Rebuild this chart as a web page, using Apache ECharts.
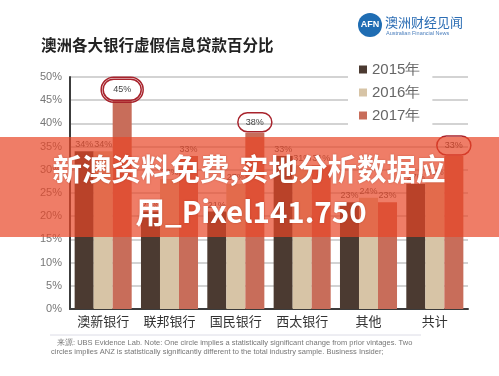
<!DOCTYPE html>
<html>
<head>
<meta charset="utf-8">
<script src="https://cdn.jsdelivr.net/npm/echarts@6/dist/echarts.min.js"></script>
<style>
  html, body { margin: 0; padding: 0; background: #fff; }
  #chart { width: 499px; height: 376px; }
</style>
</head>
<body>
<div id="chart"></div>
<script>
  // 数据
  const categories = ['澳新银行', '联邦银行', '国民银行', '西太银行', '其他', '共计'];
  const years = ['2015年', '2016年', '2017年'];
  const v2015 = [34, 21, 21, 33, 23, 27];
  const v2016 = [34, 28, 27, 31, 24, 28];
  const v2017 = [45, 33, 38, 31, 23, 33];
  // 圈数: 0 无, 1 单圈, 2 双圈
  const rings2017 = [2, 0, 1, 0, 0, 1];

  const cjk = '"Noto Sans CJK SC", sans-serif';
  const latin = '"Liberation Sans", Arial, sans-serif';
  const colors = ['#4b3a31', '#d7c4a6', '#c86d5a'];
  const ringColor = '#a8232c';

  let myChart = echarts.init(document.getElementById('chart'));

  const baseLabel = {
    show: true,
    position: 'top',
    distance: 2,
    fontSize: 9,
    color: '#555',
    fontFamily: latin,
    formatter: '{c}%'
  };

  function ringLabel (v, n) {
    if (n === 2) {
      return {
        value: v,
        label: {
          show: true,
          position: 'top',
          distance: -2,
          formatter: '{r|' + v + '%}',
          borderColor: ringColor,
          borderWidth: 1.5,
          borderRadius: 16,
          padding: 2,
          rich: {
            r: {
              fontSize: 9,
              color: '#444',
              fontFamily: latin,
              borderColor: ringColor,
              borderWidth: 1.5,
              borderRadius: 13,
              padding: [6, 10]
            }
          }
        }
      };
    }
    if (n === 1) {
      return {
        value: v,
        label: {
          show: true,
          position: 'top',
          distance: 1,
          formatter: v + '%',
          fontSize: 9,
          color: '#444',
          fontFamily: latin,
          borderColor: ringColor,
          borderWidth: 1.5,
          borderRadius: 11,
          padding: [5, 8]
        }
      };
    }
    return v;
  }

  myChart.setOption({
    backgroundColor: '#fff',
    animation: false,
    color: colors,
    title: {
      text: '澳洲各大银行虚假信息贷款百分比',
      left: 36,
      top: 32,
      textStyle: {
        fontSize: 15.5,
        fontWeight: 'bold',
        color: '#222',
        fontFamily: cjk
      }
    },
    legend: {
      data: years,
      orient: 'vertical',
      left: 348,
      top: 58,
      icon: 'rect',
      itemWidth: 8,
      itemHeight: 8,
      itemGap: 8,
      backgroundColor: '#fff',
      padding: [4, 12, 4, 11],
      textStyle: {
        fontSize: 15,
        color: '#666',
        fontFamily: latin,
        lineHeight: 14
      }
    },
    grid: {
      left: 70,
      right: 31,
      top: 77,
      bottom: 67
    },
    xAxis: {
      type: 'category',
      data: categories,
      axisTick: { show: false },
      axisLine: {
        lineStyle: { color: '#3c3c3c', width: 2 }
      },
      axisLabel: {
        interval: 0,
        margin: 6,
        fontSize: 13,
        color: '#333',
        fontFamily: cjk
      }
    },
    yAxis: {
      type: 'value',
      min: 0,
      max: 50,
      interval: 5,
      axisLine: {
        show: true,
        lineStyle: { color: '#3c3c3c', width: 2 }
      },
      axisTick: { show: false },
      axisLabel: {
        formatter: '{value}%',
        margin: 8,
        fontSize: 11,
        color: '#777',
        fontFamily: latin
      },
      splitLine: {
        lineStyle: { color: '#c4c4c4', width: 1.5 }
      }
    },
    series: [
      {
        name: years[0],
        type: 'bar',
        data: v2015,
        barGap: 0,
        barCategoryGap: '14%',
        label: baseLabel
      },
      {
        name: years[1],
        type: 'bar',
        data: v2016,
        barGap: 0,
        barCategoryGap: '14%',
        label: baseLabel
      },
      {
        name: years[2],
        type: 'bar',
        data: v2017.map((v, i) => ringLabel(v, rings2017[i])),
        barGap: 0,
        barCategoryGap: '14%',
        label: baseLabel
      }
    ],
    graphic: [
      // logo
      {
        type: 'circle',
        shape: { cx: 370, cy: 25, r: 12 },
        style: { fill: '#1f6db3' }
      },
      {
        type: 'text',
        x: 370,
        y: 25,
        style: {
          text: 'AFN',
          align: 'center',
          verticalAlign: 'middle',
          fill: '#fff',
          font: 'bold 9px ' + latin
        }
      },
      {
        type: 'text',
        x: 385,
        y: 22,
        style: {
          text: '澳洲财经见闻',
          verticalAlign: 'middle',
          fill: '#2b6db4',
          font: '13px ' + cjk
        }
      },
      {
        type: 'text',
        x: 386,
        y: 33,
        style: {
          text: 'Australian Financial News',
          verticalAlign: 'middle',
          fill: '#4b7fbd',
          font: '5.5px ' + latin
        }
      },
      // 注释
      {
        type: 'line',
        shape: { x1: 50, y1: 335, x2: 421, y2: 335 },
        style: { stroke: '#dcdce6', lineWidth: 1 }
      },
      {
        type: 'text',
        x: 57,
        y: 343,
        style: {
          text: '来源: UBS Evidence Lab. Note: One circle implies a statistically significant change from prior vintages. Two',
          verticalAlign: 'middle',
          fill: '#777',
          font: '7.5px ' + latin
        }
      },
      {
        type: 'text',
        x: 51,
        y: 352,
        style: {
          text: 'circles implies ANZ is statistically significantly different to the total industry sample. Business Insider;',
          verticalAlign: 'middle',
          fill: '#777',
          font: '7.5px ' + latin
        }
      },
      // 横幅
      {
        type: 'rect',
        z: 100,
        shape: { x: 0, y: 137, width: 499, height: 100 },
        style: { fill: 'rgba(232, 70, 38, 0.7)' }
      },
      {
        type: 'text',
        z: 101,
        x: 249,
        y: 169,
        style: {
          text: '新澳资料免费,实地分析数据应',
          align: 'center',
          verticalAlign: 'middle',
          fill: '#fff',
          font: 'bold 29.5px ' + cjk,
          textShadowColor: 'rgba(120, 30, 10, 0.35)',
          textShadowBlur: 2
        }
      },
      {
        type: 'text',
        z: 101,
        x: 251,
        y: 212,
        style: {
          text: '用_Pixel141.750',
          align: 'center',
          verticalAlign: 'middle',
          fill: '#fff',
          font: 'bold 29.5px ' + cjk,
          textShadowColor: 'rgba(120, 30, 10, 0.35)',
          textShadowBlur: 2
        }
      }
    ]
  });
</script>
</body>
</html>
